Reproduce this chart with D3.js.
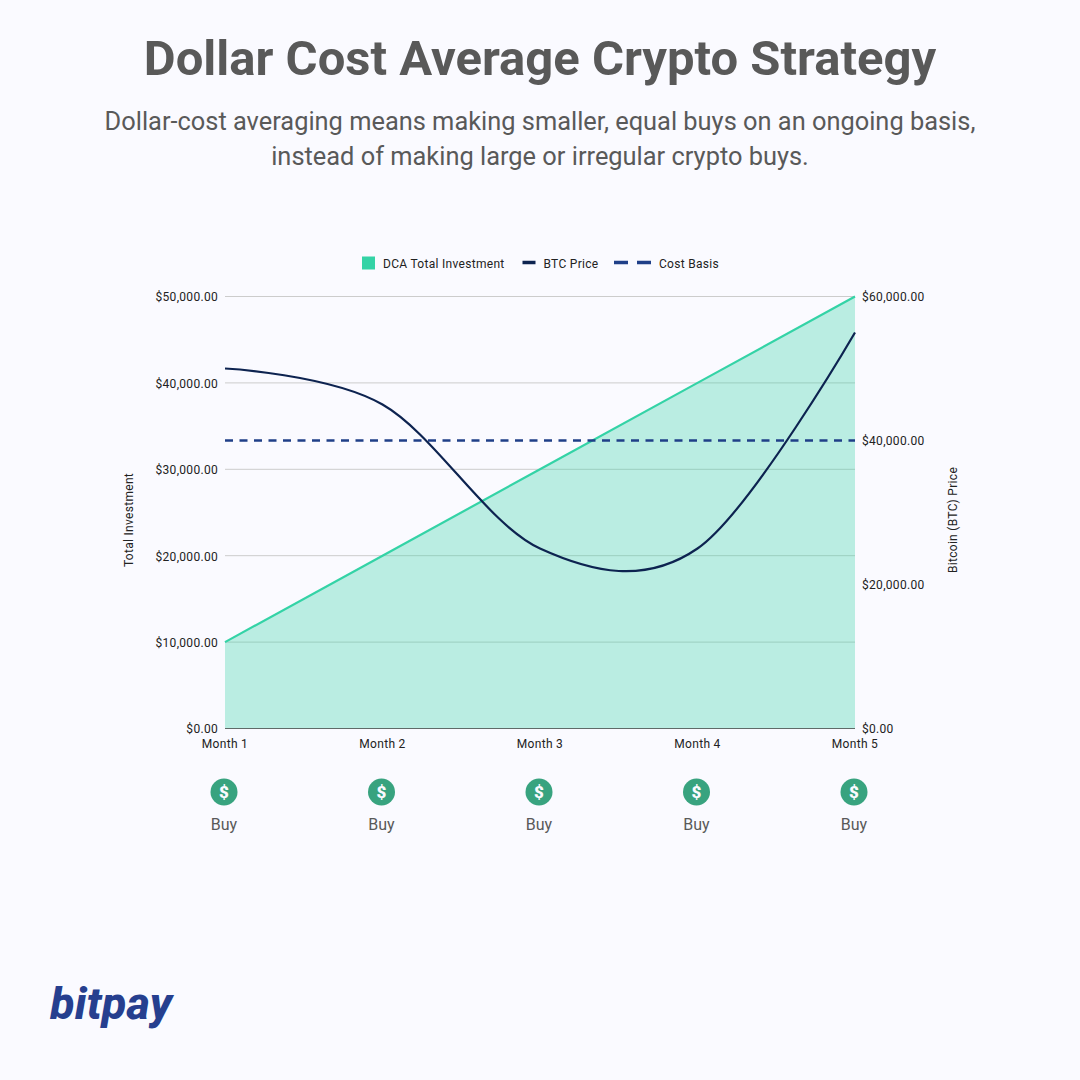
<!DOCTYPE html>
<html>
<head>
<meta charset="utf-8">
<script src="https://cdn.jsdelivr.net/npm/d3@7"></script>
<style>
  html, body { margin: 0; padding: 0; background: #fafaff; }
  svg { display: block; }
  text { font-family: Roboto, sans-serif; }
  .small { font-family: Roboto, sans-serif; letter-spacing: 0.3px; }
</style>
</head>
<body>
<svg width="1080" height="1080"></svg>
<script>
var months = ["Month 1", "Month 2", "Month 3", "Month 4", "Month 5"];
var totalInvestment = [10000, 20000, 30000, 40000, 50000];
var btcPrice = [50000, 45000, 25000, 25000, 55000];
var costBasis = [40000, 40000, 40000, 40000, 40000];
var leftTicks = [0, 10000, 20000, 30000, 40000, 50000];
var rightTicks = [0, 20000, 40000, 60000];
var legendLabels = ["DCA Total Investment", "BTC Price", "Cost Basis"];
var subtitleLines = [
  "Dollar-cost averaging means making smaller, equal buys on an ongoing basis,",
  "instead of making large or irregular crypto buys."
];

var svg = d3.select("svg");
var margin = { top: 296.5, right: 225, bottom: 351.5, left: 225 },
  width = 1080,
  height = 1080;

var x = d3.scalePoint().domain(months).range([margin.left, width - margin.right]);
var yLeft = d3.scaleLinear().domain([0, 50000]).range([height - margin.bottom, margin.top]);
var yRight = d3.scaleLinear().domain([0, 60000]).range([height - margin.bottom, margin.top]);

var money = d3.format("$,.2f");
var darkText = "#222222";
var greyText = "#595959";

// title
svg.append("text")
  .attr("x", 540).attr("y", 75)
  .attr("text-anchor", "middle")
  .attr("font-size", 49)
  .attr("font-weight", 700)
  .attr("fill", greyText)
  .text("Dollar Cost Average Crypto Strategy");

svg.selectAll(".subtitle")
  .data(subtitleLines)
  .enter().append("text")
  .attr("class", "subtitle")
  .attr("x", 540)
  .attr("y", function (d, i) { return 130 + i * 35; })
  .attr("text-anchor", "middle")
  .attr("font-size", 25.4)
  .attr("fill", greyText)
  .text(function (d) { return d; });

// gridlines + left axis
var axisLeft = svg.append("g")
  .attr("transform", "translate(" + margin.left + ",0.6)")
  .call(d3.axisLeft(yLeft).tickValues(leftTicks).tickFormat(money)
    .tickSize(0).tickPadding(7));
axisLeft.select(".domain").remove();
axisLeft.selectAll("text").attr("class", "small").attr("font-size", 12).attr("fill", darkText)
  .attr("font-family", "Roboto, sans-serif");

svg.append("g").selectAll("line")
  .data(leftTicks.slice(1))
  .enter().append("line")
  .attr("x1", margin.left).attr("x2", width - margin.right)
  .attr("y1", function (d) { return yLeft(d); })
  .attr("y2", function (d) { return yLeft(d); })
  .attr("stroke", "#cccccc")
  .attr("stroke-width", 1);

// right axis
var axisRight = svg.append("g")
  .attr("transform", "translate(" + (width - margin.right) + ",0.6)")
  .call(d3.axisRight(yRight).tickValues(rightTicks).tickFormat(money)
    .tickSize(0).tickPadding(7));
axisRight.select(".domain").remove();
axisRight.selectAll("text").attr("class", "small").attr("font-size", 12).attr("fill", darkText)
  .attr("font-family", "Roboto, sans-serif");

// area
var area = d3.area()
  .x(function (d, i) { return x(months[i]); })
  .y0(yLeft(0))
  .y1(function (d) { return yLeft(d); });
var line = d3.line()
  .x(function (d, i) { return x(months[i]); })
  .y(function (d) { return yLeft(d); });

svg.append("path").datum(totalInvestment)
  .attr("d", area)
  .attr("fill", "#34d3a6")
  .attr("fill-opacity", 0.32);
svg.append("path").datum(totalInvestment)
  .attr("d", line)
  .attr("fill", "none")
  .attr("stroke", "#34d3a6")
  .attr("stroke-width", 2.2);

// baseline
svg.append("line")
  .attr("x1", margin.left).attr("x2", width - margin.right)
  .attr("y1", yLeft(0)).attr("y2", yLeft(0))
  .attr("stroke", "#5f6b68")
  .attr("stroke-width", 1.2);

// cost basis and price, both on the right axis
var rightLine = d3.line()
  .x(function (d, i) { return x(months[i]); })
  .y(function (d) { return yRight(d); });

svg.append("path").datum(costBasis)
  .attr("d", rightLine)
  .attr("fill", "none")
  .attr("stroke", "#1f3f88")
  .attr("stroke-width", 2.4)
  .attr("stroke-dasharray", "8 6.5");

svg.append("path").datum(btcPrice)
  .attr("d", rightLine.curve(d3.curveCardinal.tension(0)))
  .attr("fill", "none")
  .attr("stroke", "#0d2350")
  .attr("stroke-width", 2.2);

// month labels
svg.append("g").selectAll("text")
  .data(months)
  .enter().append("text")
  .attr("class", "small")
  .attr("x", function (d) { return x(d); })
  .attr("y", 747.5)
  .attr("text-anchor", "middle")
  .attr("font-size", 12)
  .attr("fill", darkText)
  .text(function (d) { return d; });

// buy markers
var buys = svg.append("g").selectAll("g")
  .data(months)
  .enter().append("g")
  .attr("transform", function (d) { return "translate(" + (x(d) - 1) + ",0)"; });
buys.append("circle")
  .attr("cy", 792).attr("r", 13.5).attr("fill", "#38a37f");
buys.append("text")
  .attr("y", 798).attr("text-anchor", "middle")
  .attr("font-size", 17).attr("font-weight", 900).attr("fill", "#fafaff")
  .text("$");
buys.append("text")
  .attr("y", 830).attr("text-anchor", "middle")
  .attr("font-size", 16).attr("fill", greyText)
  .text("Buy");

// axis titles
svg.append("text")
  .attr("class", "small")
  .attr("transform", "translate(133,520) rotate(-90)")
  .attr("text-anchor", "middle")
  .attr("font-size", 12).attr("fill", darkText)
  .text("Total Investment");
svg.append("text")
  .attr("class", "small")
  .attr("transform", "translate(957,520) rotate(-90)")
  .attr("text-anchor", "middle")
  .attr("font-size", 12).attr("fill", darkText)
  .text("Bitcoin (BTC) Price");

// legend
var legend = svg.append("g");
legend.append("rect")
  .attr("x", 362).attr("y", 256.5).attr("width", 13).attr("height", 13)
  .attr("fill", "#34d3a6");
legend.append("line")
  .attr("x1", 522.5).attr("x2", 535.5).attr("y1", 262.5).attr("y2", 262.5)
  .attr("stroke", "#0d2350").attr("stroke-width", 3.5);
legend.append("line")
  .attr("x1", 614).attr("x2", 651)
  .attr("y1", 262.5).attr("y2", 262.5)
  .attr("stroke", "#1f3f88").attr("stroke-width", 3.5)
  .attr("stroke-dasharray", "14 9");
legend.selectAll("text")
  .data(legendLabels)
  .enter().append("text")
  .attr("class", "small")
  .attr("x", function (d, i) { return [383, 543.5, 659][i]; })
  .attr("y", 267.5)
  .attr("font-size", 12)
  .attr("fill", darkText)
  .text(function (d) { return d; });

// logo
svg.append("text")
  .attr("x", 50).attr("y", 1019)
  .attr("font-family", "Open Sans, sans-serif")
  .attr("font-style", "italic")
  .attr("font-weight", 800)
  .attr("font-size", 45)
  .attr("fill", "#263f8f")
  .attr("textLength", 122)
  .text("bitpay");
</script>
</body>
</html>
